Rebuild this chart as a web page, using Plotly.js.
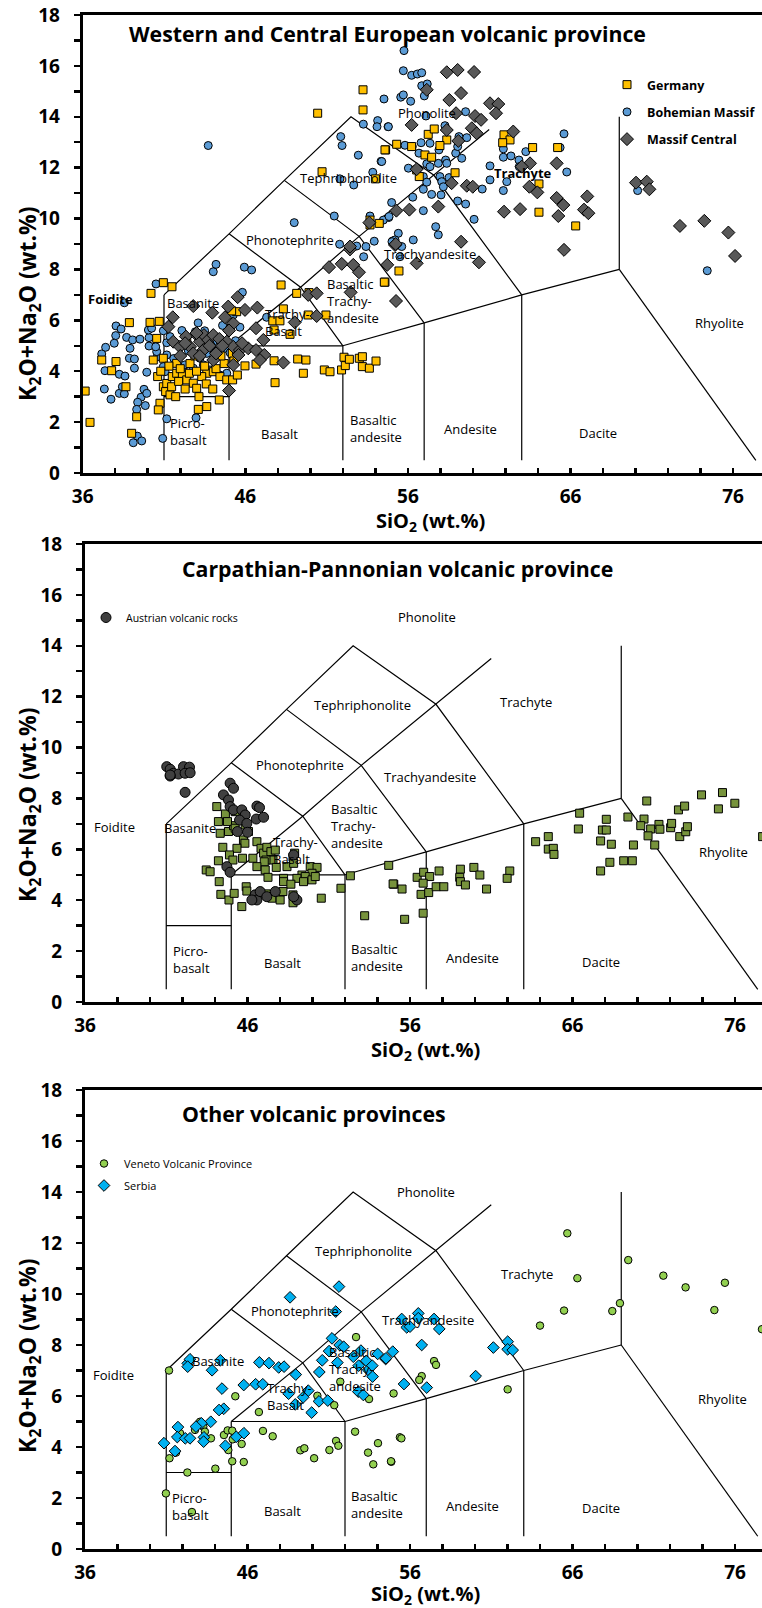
<!DOCTYPE html>
<html>
<head>
<meta charset="utf-8">
<script src="https://cdn.plot.ly/plotly-3.0.1.min.js"></script>
<style>html,body{margin:0;padding:0;background:#fff;overflow:hidden}#chart{width:762px;height:1608px}</style>
</head>
<body>
<div id="chart"></div>
<script>
// ---------- TAS boundary vertices (SiO2, Na2O+K2O); null separates segments ----------
const tasSiO2 = [41,41,null,41,45,null,45,45,null,45,52,null,52,52,null,52,57,null,57,57,null,57,63,null,63,63,null,63,69,null,69,69,null,69,77.4,null,
  41,45,48.4,52.5,57.6,63,null,45,49.4,53,57.6,61,null,45,49.4,52,null,48.4,53,57,null];
const tasAlk  = [0.5,7,null,3,3,null,0.5,5,null,5,5,null,0.5,5,null,5,5.9,null,0.5,5.9,null,5.9,7,null,0.5,7,null,7,8,null,8,14,null,8,0.5,null,
  7,9.4,11.5,14,11.7,7,null,5,7.3,9.3,11.7,13.5,null,9.4,7.3,5,null,11.5,9.3,5.9,null];

// ---------- Panel 1: Western and Central European volcanic province ----------
const germanySiO2 = [50.45,53.24,53.24,50.72,54.63,55.31,54.0,53.67,53.67,54.24,54.59,56.23,57.25,57.62,58.39,57.97,57.05,57.46,56.54,56.7,58.9,61.91,62.28,61.83,63.67,65.21,64.06,64.06,66.32,55.45,54.59,
  36.15,36.45,37.17,37.78,38.05,38.66,38.87,39.01,39.32,40.2,40.14,40.71,40.96,41.49,40.55,40.34,40.96,40.61,40.96,40.75,40.65,41.1,41.37,41.17,41.47,41.72,41.51,41.78,42.13,42.4,42.56,42.8,43.01,43.15,43.11,43.63,43.63,43.32,44.03,44.4,44.44,44.86,45.22,45.51,45.98,46.66,45.2,45.47,45.47,45.16,42.4,41.78,47.83,47.77,48.2,47.69,48.13,48.34,47.77,48.75,49.16,49.22,49.73,49.57,49.87,49.92,50.96,50.86,51.21,51.92,52.07,52.15,52.4,53.01,53.2,53.2,53.63,54.04,54.55,
  42.0,42.6,43.0,43.5,44.2,44.7,45.3,41.9,42.3,43.6,44.0,41.3,40.8,42.9,44.5];
const germanyAlk  = [14.14,15.06,14.27,11.84,12.7,12.92,11.56,9.94,9.75,9.81,12.7,12.83,13.31,13.52,13.09,12.87,12.5,12.41,11.91,11.65,11.8,13.29,13.09,12.98,12.79,12.79,11.36,10.25,9.71,7.94,7.5,
  3.22,1.99,4.44,4.02,4.38,3.39,5.91,1.56,2.21,7.06,5.92,5.96,7.48,7.32,5.29,4.44,4.51,3.79,3.39,2.74,2.48,3.2,3.07,3.52,3.39,3.0,3.79,3.92,3.85,3.66,3.92,3.53,3.33,3.0,2.5,2.61,3.92,3.79,3.98,2.87,3.79,3.66,3.66,3.85,4.21,4.28,4.7,4.83,6.34,6.37,5.23,4.31,3.55,4.41,7.39,5.98,5.98,6.45,5.62,5.45,7.06,4.48,4.44,3.92,6.21,7.09,6.21,4.05,3.98,4.05,4.55,4.22,4.47,4.51,4.57,4.18,4.12,4.4,7.5,
  4.1,4.3,4.0,4.2,4.1,4.3,4.4,3.6,3.3,3.5,3.3,4.2,4.0,4.6,4.6];

const bohemianSiO2 = [43.72,54.53,53.26,54.14,54.1,54.78,51.87,51.95,52.95,54.35,53.84,51.82,52.67,55.0,54.82,54.49,53.67,51.47,49.01,51.8,52.85,53.42,53.93,53.28,55.06,55.41,
  55.76,55.72,56.23,56.58,56.85,56.85,57.19,57.01,55.56,55.72,56.17,54.8,57.11,58.28,59.55,55.82,56.27,56.68,57.36,56.81,57.91,58.32,59.14,59.62,58.94,59.06,59.31,54.39,56.03,57.16,57.36,57.87,58.39,57.97,56.95,57.16,56.95,58.08,58.18,58.53,57.46,58.04,56.3,56.95,54.84,59.06,59.55,60.07,57.71,57.87,56.33,55.21,55.62,60.57,61.05,61.05,61.87,61.87,62.34,62.08,61.87,62.83,63.25,62.85,65.36,65.6,65.77,70.13,74.41,55.02,55.51,
  37.17,37.41,37.37,37.33,37.74,38.05,38.03,37.94,38.36,38.56,38.7,38.91,39.07,38.87,39.18,38.25,38.6,38.25,38.56,38.44,39.18,39.52,39.94,39.77,39.59,39.38,39.32,39.85,39.94,40.08,40.08,40.04,40.24,40.59,40.55,40.49,40.96,41.06,40.96,41.17,41.37,41.17,40.51,39.11,39.36,39.63,40.92,41.17,42.97,42.19,42.29,42.8,43.21,43.42,43.83,44.44,44.86,44.03,43.63,42.93,43.5,44.03,44.5,44.75,45.06,45.82,45.67,44.03,44.2,45.94,46.39,45.26,44.98,47.31,
  41.6,42.5,43.9,44.3,45.4,42.1,43.1,44.6];
const bohemianAlk  = [12.87,14.7,13.71,13.85,13.61,13.61,13.22,12.87,12.49,12.25,11.82,11.56,11.32,10.63,10.04,9.94,10.1,10.1,9.84,8.99,8.92,8.9,9.11,8.5,9.12,9.42,
  16.6,15.81,15.63,15.68,15.73,15.22,15.29,14.82,14.77,14.86,14.61,13.61,14.03,13.65,14.2,12.88,12.83,12.57,12.96,12.98,12.7,12.3,13.22,13.18,12.57,12.83,12.37,12.24,11.98,12.15,12.04,12.17,12.17,11.65,11.65,11.43,11.15,11.45,11.25,11.61,10.95,10.93,10.84,10.31,10.08,10.69,10.57,9.97,9.68,9.36,9.16,9.16,8.9,11.16,12.07,11.52,12.41,12.74,12.46,11.45,11.1,12.3,12.63,12.04,12.79,13.33,11.83,11.1,7.95,9.09,8.5,
  4.68,4.94,4.02,3.3,2.9,5.78,5.4,5.1,5.66,6.69,5.33,4.9,5.23,4.51,4.48,3.88,3.81,3.13,3.11,3.39,4.12,5.26,3.96,3.29,2.98,2.78,2.5,2.65,3.13,5.32,4.99,5.62,5.69,4.57,4.77,4.96,4.18,3.98,5.59,5.12,5.36,4.64,7.43,1.19,1.45,1.26,1.36,2.13,2.17,3.98,4.25,4.12,4.51,4.25,4.05,3.85,3.92,4.83,4.7,5.55,5.59,5.16,5.23,4.9,4.73,7.1,5.73,7.91,8.2,8.09,7.98,6.21,5.69,6.12,
  4.5,4.8,5.0,4.6,5.2,5.6,5.9,5.8];

const massifSiO2 = [55.29,53.63,52.44,55.21,
  58.39,59.06,60.07,57.16,58.55,59.27,61.05,61.56,61.42,58.96,60.13,60.5,59.93,60.23,58.39,56.23,59.1,62.48,63.51,63.0,65.15,56.54,58.69,59.62,59.99,63.47,63.96,61.91,62.9,65.15,65.56,65.25,67.03,66.83,67.1,65.6,70.03,70.69,70.85,72.73,74.23,75.71,76.12,57.87,56.09,
  59.27,60.37,55.27,54.73,56.54,55.25,
  41.54,41.27,42.8,43.97,44.95,45.53,45.98,46.74,46.66,44.75,45.26,41.57,41.98,42.35,42.6,43.11,43.21,43.46,43.72,44.03,44.4,44.86,45.26,45.67,46.18,46.66,47.17,47.11,48.34,46.9,45.58,45.26,44.03,43.42,42.8,45.0,49.04,49.87,50.39,50.39,52.48,51.15,51.93,52.64,52.99,52.44,
  42.3,43.0,43.8,44.6,45.0,42.0,43.2,44.2,45.8];
const massifAlk  = [10.31,9.84,8.79,8.96,
  15.75,15.84,15.76,15.06,14.66,14.93,14.53,14.5,14.14,14.14,14.03,13.88,13.55,13.35,13.48,13.68,13.05,13.42,12.17,12.04,12.17,11.94,11.39,11.29,11.25,11.25,11.03,10.27,10.37,10.81,10.53,10.1,10.87,10.35,10.21,8.77,11.41,11.45,11.15,9.71,9.91,9.45,8.53,10.47,10.35,
  9.09,8.28,6.76,8.18,8.24,9.0,
  6.12,5.75,6.56,6.3,6.54,6.91,6.41,6.5,5.69,6.12,5.88,5.16,4.96,5.36,4.96,5.36,5.16,5.42,5.23,5.42,5.27,5.16,4.96,4.83,4.9,4.83,4.64,5.23,4.34,4.44,4.64,4.25,4.44,4.83,4.7,3.24,5.92,7.0,7.06,6.17,7.1,8.09,8.22,8.18,7.89,8.9,
  5.1,5.5,5.0,5.0,5.6,4.6,4.6,4.7,5.1];

// ---------- Panel 2: Carpathian-Pannonian volcanic province ----------
const austrianSiO2 = [41.03,41.24,41.44,41.75,42.06,42.43,42.16,41.24,42.47,41.24,42.16,44.93,45.14,44.52,44.83,44.93,45.14,45.65,45.86,45.51,45.96,46.58,46.74,46.54,46.99,46.0,45.38,44.73,44.93,46.47,46.58,46.78,47.19,47.71,49.04,48.84,46.27,48.84];
const austrianAlk  = [9.25,9.15,8.99,8.96,9.25,9.23,8.99,8.88,9.01,8.92,8.24,8.6,8.4,8.14,7.94,7.68,7.55,7.55,7.35,7.15,7.02,7.7,7.64,7.19,7.26,6.67,6.7,5.32,5.1,4.21,4.01,4.34,4.14,4.34,4.01,4.14,4.01,5.78];

const carpathianSiO2 = [44.11,44.21,44.32,44.48,44.21,43.46,43.7,44.26,44.36,44.86,45.18,44.83,44.64,45.24,45.14,44.77,45.24,46.06,45.86,45.75,45.84,45.35,44.89,45.1,45.69,46.33,46.58,46.83,46.99,47.19,47.44,47.71,47.57,47.14,47.03,46.58,47.09,47.77,48.43,48.9,48.8,48.84,49.35,49.86,50.28,49.97,49.55,49.04,48.22,47.26,48.22,48.67,49.45,49.97,50.17,45.92,45.96,46.58,47.15,47.5,48.01,48.18,48.8,48.8,45.65,50.54,51.75,52.33,53.21,54.69,55.0,
  54.96,55.51,55.67,56.44,56.84,57.21,56.81,56.68,57.15,56.81,57.61,58.08,57.79,59.1,59.06,59.1,59.41,59.93,60.3,60.71,62.14,61.98,63.73,64.51,64.51,64.82,64.86,66.44,66.36,67.73,67.73,68.08,67.84,68.08,68.39,68.3,69.15,69.68,69.41,69.75,70.57,70.4,70.2,70.81,70.65,71.06,71.32,71.38,72.04,72.1,72.52,72.9,72.6,72.97,73.07,73.94,74.98,75.23,75.99,77.7];
const carpathianAlk  = [7.68,7.09,6.63,6.08,5.55,5.19,5.12,4.73,4.23,4.01,4.27,6.7,7.39,7.48,6.93,7.09,6.83,6.7,6.96,6.37,6.24,6.04,5.78,5.58,5.65,5.65,6.3,6.04,5.85,6.08,5.91,5.97,5.58,5.58,5.51,5.32,5.19,5.29,5.32,5.85,5.69,5.45,4.99,5.32,5.29,5.06,4.93,4.86,4.86,4.9,4.73,4.63,4.73,4.8,4.93,4.53,4.36,4.23,4.25,4.08,4.01,4.34,4.21,3.9,3.75,4.08,4.47,4.96,3.39,5.37,4.63,
  4.64,4.44,3.25,4.9,5.1,4.93,4.67,4.23,4.3,3.49,4.53,4.53,5.15,5.22,4.9,4.73,4.6,5.29,4.99,4.44,5.15,4.86,6.3,6.5,6.01,6.04,5.8,7.42,6.8,6.33,5.15,7.18,6.76,6.76,6.2,5.49,5.55,5.55,7.27,6.17,7.9,7.19,6.93,6.8,6.53,6.17,6.98,6.79,6.85,7.02,7.55,7.7,6.5,6.69,6.89,8.14,7.59,8.23,7.81,6.5];

// ---------- Panel 3: Other volcanic provinces ----------
const venetoSiO2 = [41.17,45.25,46.7,40.98,42.58,42.3,44.02,41.2,41.6,41.85,42.77,43.08,43.28,43.38,43.75,44.55,44.78,45.06,44.82,45.06,45.64,45.77,45.09,46.95,47.55,49.25,49.5,50.1,51.04,51.45,51.59,50.3,51.34,51.71,52.68,52.62,53.42,54.03,53.74,54.85,53.48,54.99,55.38,55.47,54.83,56.72,56.57,57.48,57.6,62.01,64.0,65.48,68.45,68.92,74.73,77.66,65.68,69.43,66.3,71.59,72.96,75.38];
const venetoAlk  = [7.0,5.99,5.37,2.18,1.45,3.0,3.15,3.56,3.78,4.54,4.67,4.99,4.8,4.6,4.34,4.47,4.65,4.64,3.88,3.44,4.12,3.41,4.3,4.63,4.42,3.87,3.95,3.56,3.88,4.24,4.05,6.01,5.64,6.56,8.31,4.6,3.78,4.15,3.32,3.42,5.88,6.1,4.38,4.34,3.44,6.78,6.63,7.37,7.22,6.26,8.76,9.35,9.33,9.64,9.37,8.62,12.38,11.33,10.62,10.72,10.26,10.44];

const serbiaSiO2 = [40.86,41.54,41.72,41.68,42.17,42.46,42.32,42.46,42.32,43.82,44.33,44.43,44.54,44.25,43.74,43.16,42.83,43.32,43.3,44.64,45.31,45.78,45.77,46.5,46.94,46.73,47.32,47.92,48.25,48.53,48.97,49.74,49.43,48.94,49.95,50.4,50.94,50.42,50.6,51.53,51.02,51.2,51.67,51.92,51.43,48.62,51.63,52.51,52.84,52.98,53.31,53.43,53.68,53.7,54.01,54.5,54.94,52.82,53.13,
  56.51,55.49,55.8,56.0,56.51,57.48,57.8,56.72,54.52,55.63,57.03,60.04,61.13,62.01,62.01,62.32];
const serbiaAlk  = [4.15,3.84,4.78,4.39,4.34,4.34,7.28,7.44,7.15,7.01,7.4,6.29,5.5,5.45,4.99,4.93,4.8,4.38,4.21,4.05,4.4,4.54,6.43,6.46,6.46,7.32,7.29,7.12,7.15,6.09,6.84,6.21,5.95,5.67,5.35,5.79,5.82,6.94,7.4,7.31,7.76,8.26,8.0,7.93,9.31,9.87,10.29,7.54,7.19,7.78,7.38,7.02,7.19,6.76,7.65,7.45,7.74,6.17,6.04,
  9.24,9.02,8.69,8.72,9.05,9.02,8.63,8.0,7.48,6.47,6.33,6.78,7.9,8.13,7.83,7.8];

// ---------- Labels ----------
const panelTitles = ['Western and Central European volcanic province','Carpathian-Pannonian volcanic province','Other volcanic provinces'];
const seriesNames = ['Germany','Bohemian Massif','Massif Central','Austrian volcanic rocks','Veneto Volcanic Province','Serbia'];
const yTitle = 'K<sub>2</sub>O+Na<sub>2</sub>O (wt.%)';
const xTitle = 'SiO<sub>2</sub> (wt.%)';

// ---------- Build figure ----------
const W = 762, H = 1608;
const FONT = 'Open Sans, DejaVu Sans, sans-serif';
const py = p => 1 - p / H;   // pixel-from-top to paper y
const px = p => p / W;

const panels = [
  {sx:'x', sy:'y',  left:82.7, top:15,   bottom:473},
  {sx:'x2',sy:'y2', left:85,   top:544,  bottom:1002},
  {sx:'x3',sy:'y3', left:85,   top:1090, bottom:1549}
];

const traces = [];
panels.forEach(p => {
  traces.push({x:tasSiO2, y:tasAlk, xaxis:p.sx, yaxis:p.sy, mode:'lines', line:{color:'#000', width:1.2}, hoverinfo:'skip', showlegend:false});
});

const outline = {color:'#000', width:1};
function pts(x, y, name, sx, sy, sym, size, color, legend, rank, show) {
  return {x, y, name, xaxis:sx, yaxis:sy, type:'scatter', mode:'markers', cliponaxis:true,
    marker:{symbol:sym, size, color, line:outline}, legend, legendrank:rank, legendgroup:name, showlegend:show};
}
traces.push(pts(bohemianSiO2, bohemianAlk, seriesNames[1], 'x','y', 'circle', 8, '#5B9BD5', 'legend', 2, true));
traces.push(pts(germanySiO2, germanyAlk, seriesNames[0], 'x','y', 'square', 8, '#FFC000', 'legend', 1, true));
traces.push(pts(massifSiO2, massifAlk, seriesNames[2], 'x','y', 'diamond', 10, '#595959', 'legend', 3, true));
traces.push(pts(carpathianSiO2, carpathianAlk, 'Carpathian-Pannonian', 'x2','y2', 'square', 8, '#77933C', 'legend2', 2, false));
traces.push(pts(austrianSiO2, austrianAlk, seriesNames[3], 'x2','y2', 'circle', 10, '#404040', 'legend2', 1, true));
traces.push(pts(venetoSiO2, venetoAlk, seriesNames[4], 'x3','y3', 'circle', 7.5, '#92D050', 'legend3', 1, true));
traces.push(pts(serbiaSiO2, serbiaAlk, seriesNames[5], 'x3','y3', 'diamond', 9, '#00B0F0', 'legend3', 2, true));

const layout = {width:W, height:H, margin:{l:0,r:0,t:0,b:0}, paper_bgcolor:'#fff', plot_bgcolor:'#fff',
  font:{family:FONT, color:'#000'}, annotations:[], shapes:[]};

panels.forEach((p, i) => {
  const n = i === 0 ? '' : String(i + 1);
  const pxUnit = i === 0 ? 16.26 : 16.25;
  layout['xaxis' + n] = {domain:[px(p.left), 1], anchor:'y' + n, range:[36, 36 + (W - p.left) / pxUnit],
    tickmode:'linear', tick0:36, dtick:10, ticks:'inside', ticklen:5, tickwidth:2.5, tickcolor:'#000',
    minor:{tick0:36, dtick:2, ticks:'inside', ticklen:5, tickwidth:2.5, tickcolor:'#000'},
    showline:true, linewidth:3, linecolor:'#000', mirror:true, showgrid:false, zeroline:false,
    tickfont:{family:FONT, size:19, weight:'bold', color:'#000'}, ticklabelstandoff:4, fixedrange:true};
  layout['yaxis' + n] = {domain:[py(p.bottom), py(p.top)], anchor:'x' + n, range:[0, 18],
    tickmode:'linear', tick0:0, dtick:2, ticks:'outside', ticklen:6, tickwidth:2.5, tickcolor:'#000',
    minor:{tick0:0, dtick:1, ticks:'outside', ticklen:6, tickwidth:2.5, tickcolor:'#000'},
    showline:true, linewidth:3, linecolor:'#000', showgrid:false, zeroline:false,
    tickfont:{family:FONT, size:19, weight:'bold', color:'#000'}, ticklabelstandoff:10, fixedrange:true};
});

// panel titles
const titlePos = [{x:387, y:33, anchor:'center'}, {x:180, y:568, anchor:'left'}, {x:180, y:1113, anchor:'left'}];
panelTitles.forEach((t, i) => layout.annotations.push({text:'<b>' + t + '</b>', xref:'paper', yref:'paper',
  x:px(titlePos[i].x), y:py(titlePos[i].y), xanchor:titlePos[i].anchor, yanchor:'middle', showarrow:false,
  font:{family:FONT, size:21.3, color:'#000'}}));

// axis titles
const yTitleY = [304, 805, 1356];
const xTitlePos = [[431, 521], [425, 1050], [425, 1594]];
for (let i = 0; i < 3; i++) {
  layout.annotations.push({text:'<b>' + yTitle + '</b>', xref:'paper', yref:'paper', x:px(28), y:py(yTitleY[i]),
    xanchor:'center', yanchor:'middle', textangle:-90, showarrow:false, font:{family:FONT, size:23, color:'#000'}});
  layout.annotations.push({text:'<b>' + xTitle + '</b>', xref:'paper', yref:'paper', x:px(xTitlePos[i][0]), y:py(xTitlePos[i][1]),
    xanchor:'center', yanchor:'middle', showarrow:false, font:{family:FONT, size:20, color:'#000'}});
}

// TAS field labels per panel [text, SiO2, alkali, bold]
const fieldLabels = [
  [['Foidite',37.69,6.83,true],['Basanite',42.8,6.7],['Picro-<br>basalt',42.5,1.65],['Basalt',48.09,1.53],['Basaltic<br>andesite',54.04,1.74],
   ['Andesite',59.82,1.72],['Dacite',67.71,1.59],['Rhyolite',75.19,5.91],['Trachy-<br>Basalt',48.6,5.9],['Basaltic<br>Trachy-<br>andesite',52.64,6.77],
   ['Trachyandesite',57.36,8.6],['Phonotephrite',48.75,9.16],['Tephriphonolite',52.32,11.61],['Phonolite',57.16,14.14],['Trachyte',63.1,11.78,true]],
  [['Foidite',37.79,6.89],['Basanite',42.47,6.85],['Picro-<br>basalt',42.53,1.69],['Basalt',48.18,1.52],['Basaltic<br>andesite',53.96,1.76],
   ['Andesite',59.87,1.74],['Dacite',67.77,1.58],['Rhyolite',75.27,5.91],['Trachy-<br>Basalt',48.94,5.94],['Basaltic<br>Trachy-<br>andesite',52.74,6.93],
   ['Trachyandesite',57.26,8.83],['Phonotephrite',49.25,9.32],['Tephriphonolite',53.05,11.67],['Phonolite',57.05,15.12],['Trachyte',63.15,11.8]],
  [['Foidite',37.78,6.82],['Basanite',44.2,7.37],['Picro-<br>basalt',42.52,1.66],['Basalt',48.17,1.5],['Basaltic<br>andesite',53.94,1.76],
   ['Andesite',59.84,1.7],['Dacite',67.73,1.6],['Rhyolite',75.22,5.88],['Trachy-<br>Basalt',48.57,5.97],['Basaltic<br>Trachy-<br>andesite',52.62,7.05],
   ['Trachyandesite',57.13,8.98],['Phonotephrite',48.92,9.35],['Tephriphonolite',53.16,11.69],['Phonolite',56.97,14.01],['Trachyte',63.18,10.77]]
];
fieldLabels.forEach((list, i) => {
  const n = i === 0 ? '' : String(i + 1);
  list.forEach(l => layout.annotations.push({text: l[3] ? '<b>' + l[0] + '</b>' : l[0], xref:'x' + n, yref:'y' + n, x:l[1], y:l[2],
    showarrow:false, xanchor:'center', yanchor:'middle', align:'left', font:{family:FONT, size:13, color:'#000'}}));
});

// legends
layout.legend  = {x:px(607), y:py(70), xanchor:'left', yanchor:'top', bgcolor:'rgba(0,0,0,0)', tracegroupgap:8,
  font:{family:FONT, size:12.5, weight:'bold', color:'#000'}, itemclick:false, itemdoubleclick:false};
layout.legend2 = {x:px(86), y:py(603), xanchor:'left', yanchor:'top', bgcolor:'rgba(0,0,0,0)', tracegroupgap:6,
  font:{family:FONT, size:10.5, color:'#000'}, itemclick:false, itemdoubleclick:false};
layout.legend3 = {x:px(84), y:py(1149), xanchor:'left', yanchor:'top', bgcolor:'rgba(0,0,0,0)', tracegroupgap:3,
  font:{family:FONT, size:11, color:'#000'}, itemclick:false, itemdoubleclick:false};

Plotly.newPlot('chart', traces, layout, {displayModeBar:false, staticPlot:true});
</script>
</body>
</html>
